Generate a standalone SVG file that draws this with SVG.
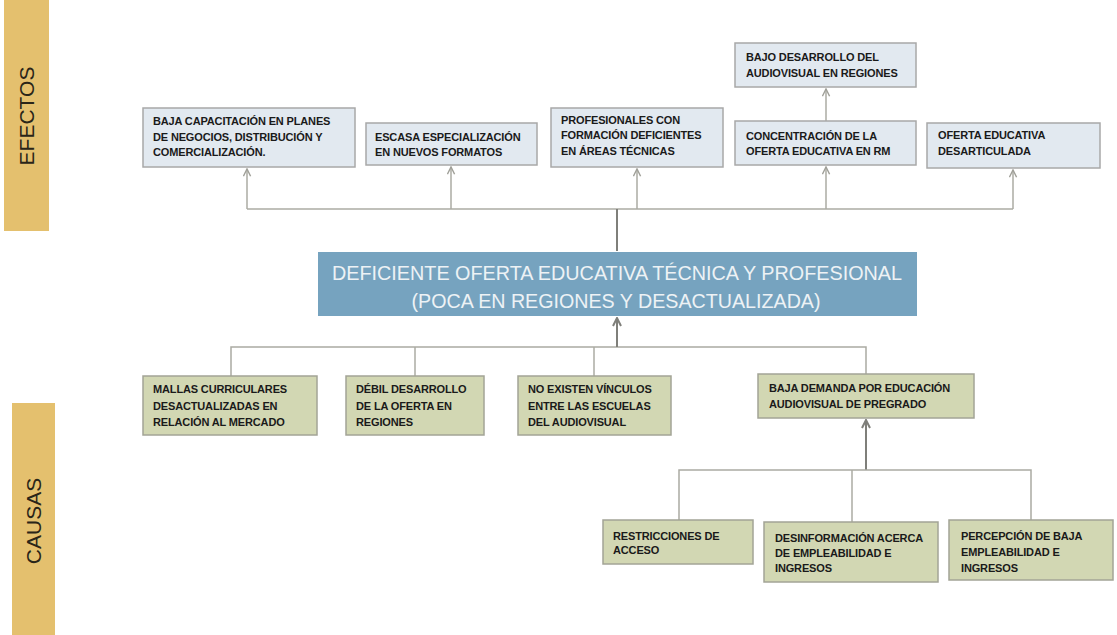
<svg xmlns="http://www.w3.org/2000/svg" width="1117" height="635" viewBox="0 0 1117 635">
<style>
.band{fill:#E4C06E;}
.bandtxt{font-family:"Liberation Sans",Arial,sans-serif;font-size:21px;fill:#2A2518;text-anchor:middle;}
.eff{fill:#E2E9F0;stroke:#A8A8A8;stroke-width:1.5;}
.cau{fill:#D2D7B3;stroke:#A3A496;stroke-width:1.5;}
.main{fill:#76A3BF;}
.t{font-family:"Liberation Sans",Arial,sans-serif;font-size:11px;font-weight:bold;fill:#1A1A1A;letter-spacing:-0.15px;}
.mt{font-family:"Liberation Sans",Arial,sans-serif;font-size:19.5px;fill:#EDF2F5;text-anchor:middle;}
.c{fill:none;stroke:#ABABA3;stroke-width:1.5;}
.ct{fill:none;stroke:#7F7F7A;stroke-width:2;}
</style>
<defs>
<marker id="open" viewBox="0 0 10 10" refX="9" refY="5" markerWidth="9" markerHeight="9" markerUnits="userSpaceOnUse" orient="auto">
<path d="M1,1 L9,5 L1,9" fill="none" stroke="#A0A099" stroke-width="1.6"/>
</marker>
<marker id="dark" viewBox="0 0 10 10" refX="9" refY="5" markerWidth="10" markerHeight="10" markerUnits="userSpaceOnUse" orient="auto">
<path d="M1,1 L9,5 L1,9" fill="none" stroke="#7F7F7A" stroke-width="2"/>
</marker>
</defs>

<g id="band-efectos">
<rect class="band" x="4" y="0" width="45" height="231"/>
<text class="bandtxt" transform="translate(34,116) rotate(-90)">EFECTOS</text>
</g>
<g id="band-causas">
<rect class="band" x="12" y="403" width="43" height="232"/>
<text class="bandtxt" transform="translate(41,521) rotate(-90)">CAUSAS</text>
</g>

<g id="connectors">
<line class="c" x1="247" y1="209" x2="1013" y2="209"/>
<line class="c" x1="247" y1="209" x2="247" y2="169" marker-end="url(#open)"/>
<line class="c" x1="451" y1="209" x2="451" y2="167" marker-end="url(#open)"/>
<line class="c" x1="637" y1="209" x2="637" y2="169" marker-end="url(#open)"/>
<line class="c" x1="826" y1="209" x2="826" y2="167" marker-end="url(#open)"/>
<line class="c" x1="1013" y1="209" x2="1013" y2="170" marker-end="url(#open)"/>
<line class="c" x1="826" y1="121" x2="826" y2="89" marker-end="url(#open)"/>
<line class="ct" x1="617" y1="209" x2="617" y2="251"/>
<polyline class="c" points="231,376 231,347 866,347 866,374"/>
<line class="c" x1="415" y1="347" x2="415" y2="376"/>
<line class="c" x1="594" y1="347" x2="594" y2="376"/>
<line class="ct" x1="617" y1="347" x2="617" y2="318" marker-end="url(#dark)"/>
<line class="ct" x1="866" y1="470" x2="866" y2="420" marker-end="url(#dark)"/>
<polyline class="c" points="679,520 679,470 1031,470 1031,520"/>
<line class="c" x1="852" y1="470" x2="852" y2="522"/>
</g>

<g id="e1">
<rect class="eff" x="143" y="108" width="212" height="59"/>
<text class="t" x="153" y="125">BAJA CAPACITACIÓN EN PLANES</text>
<text class="t" x="153" y="141">DE NEGOCIOS, DISTRIBUCIÓN Y</text>
<text class="t" x="153" y="156">COMERCIALIZACIÓN.</text>
</g>
<g id="e2">
<rect class="eff" x="366" y="123" width="171" height="42"/>
<text class="t" x="375" y="141">ESCASA ESPECIALIZACIÓN</text>
<text class="t" x="375" y="156">EN NUEVOS FORMATOS</text>
</g>
<g id="e3">
<rect class="eff" x="551" y="108" width="172" height="59"/>
<text class="t" x="561" y="124">PROFESIONALES CON</text>
<text class="t" x="561" y="139">FORMACIÓN DEFICIENTES</text>
<text class="t" x="561" y="155">EN ÁREAS TÉCNICAS</text>
</g>
<g id="e4">
<rect class="eff" x="735" y="121" width="181" height="44"/>
<text class="t" x="746" y="140">CONCENTRACIÓN DE LA</text>
<text class="t" x="746" y="155">OFERTA EDUCATIVA EN RM</text>
</g>
<g id="e5">
<rect class="eff" x="735" y="43" width="181" height="44"/>
<text class="t" x="746" y="61">BAJO DESARROLLO DEL</text>
<text class="t" x="746" y="77">AUDIOVISUAL EN REGIONES</text>
</g>
<g id="e6">
<rect class="eff" x="927" y="123" width="173" height="45"/>
<text class="t" x="938" y="139">OFERTA EDUCATIVA</text>
<text class="t" x="938" y="155">DESARTICULADA</text>
</g>

<g id="main">
<rect class="main" x="318" y="252" width="599" height="64"/>
<text class="mt" x="617" y="280" textLength="570" lengthAdjust="spacingAndGlyphs">DEFICIENTE OFERTA EDUCATIVA TÉCNICA Y PROFESIONAL</text>
<text class="mt" x="616" y="308" textLength="409" lengthAdjust="spacingAndGlyphs">(POCA EN REGIONES Y DESACTUALIZADA)</text>
</g>

<g id="c1">
<rect class="cau" x="143" y="376" width="174" height="59"/>
<text class="t" x="153" y="393">MALLAS CURRICULARES</text>
<text class="t" x="153" y="410">DESACTUALIZADAS EN</text>
<text class="t" x="153" y="426">RELACIÓN AL MERCADO</text>
</g>
<g id="c2">
<rect class="cau" x="346" y="376" width="138" height="59"/>
<text class="t" x="356" y="393">DÉBIL DESARROLLO</text>
<text class="t" x="356" y="410">DE LA OFERTA EN</text>
<text class="t" x="356" y="426">REGIONES</text>
</g>
<g id="c3">
<rect class="cau" x="518" y="376" width="153" height="59"/>
<text class="t" x="528" y="393">NO EXISTEN VÍNCULOS</text>
<text class="t" x="528" y="410">ENTRE LAS ESCUELAS</text>
<text class="t" x="528" y="426">DEL AUDIOVISUAL</text>
</g>
<g id="c4">
<rect class="cau" x="758" y="374" width="216" height="44"/>
<text class="t" x="769" y="392">BAJA DEMANDA POR EDUCACIÓN</text>
<text class="t" x="769" y="408">AUDIOVISUAL DE PREGRADO</text>
</g>
<g id="c5">
<rect class="cau" x="603" y="520" width="150" height="44"/>
<text class="t" x="613" y="540">RESTRICCIONES DE</text>
<text class="t" x="613" y="554">ACCESO</text>
</g>
<g id="c6">
<rect class="cau" x="764" y="522" width="174" height="60"/>
<text class="t" x="775" y="542">DESINFORMACIÓN ACERCA</text>
<text class="t" x="775" y="557">DE EMPLEABILIDAD E</text>
<text class="t" x="775" y="572">INGRESOS</text>
</g>
<g id="c7">
<rect class="cau" x="949" y="520" width="164" height="60"/>
<text class="t" x="961" y="540">PERCEPCIÓN DE BAJA</text>
<text class="t" x="961" y="556">EMPLEABILIDAD E</text>
<text class="t" x="961" y="572">INGRESOS</text>
</g>
</svg>
